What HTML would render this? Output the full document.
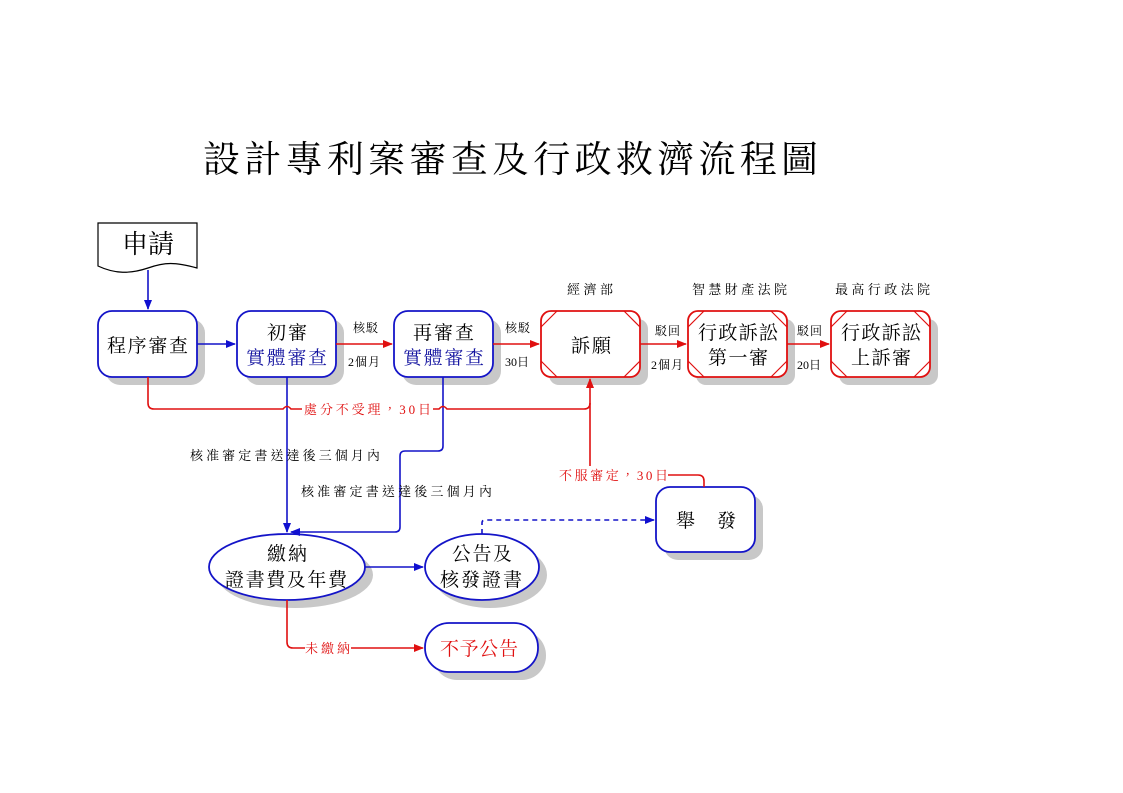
<!DOCTYPE html>
<html><head><meta charset="utf-8"><style>
html,body{margin:0;padding:0;background:#fff;}
svg{display:block;}
text{font-family:"Liberation Serif","Noto Serif CJK TC","Noto Serif CJK SC",serif;}
</style></head><body>
<svg width="1123" height="793" viewBox="0 0 1123 793" xmlns="http://www.w3.org/2000/svg">
<defs>
<marker id="ab" markerWidth="10" markerHeight="10" refX="9" refY="5" orient="auto" markerUnits="userSpaceOnUse"><path d="M0,1 L10,5 L0,9 z" fill="#1010d0"/></marker>
<marker id="ar" markerWidth="10" markerHeight="10" refX="9" refY="5" orient="auto" markerUnits="userSpaceOnUse"><path d="M0,1 L10,5 L0,9 z" fill="#e01010"/></marker>
</defs>
<text x="203" y="172" font-size="37" textLength="615" fill="#000">設計專利案審查及行政救濟流程圖</text>

<g fill="#c8c8c8">
<rect x="106" y="319" width="99" height="66" rx="14"/>
<rect x="245" y="319" width="99" height="66" rx="14"/>
<rect x="402" y="319" width="99" height="66" rx="14"/>
<rect x="549" y="319" width="99" height="66" rx="10"/>
<rect x="696" y="319" width="99" height="66" rx="10"/>
<rect x="839" y="319" width="99" height="66" rx="10"/>
<rect x="664" y="495" width="99" height="65" rx="14"/>
<ellipse cx="295" cy="575" rx="78" ry="33"/>
<ellipse cx="490" cy="575" rx="57" ry="33"/>
<rect x="433" y="631" width="113" height="49" rx="24"/>
</g>

<path d="M98,223 H197 V268 C175,262 165,262 148,268 C130,274 115,274 98,266 Z" fill="#fff" stroke="#000" stroke-width="1.2"/>
<text x="122" y="253" font-size="26">申</text>
<text x="148" y="253" font-size="26">請</text>

<g stroke="#1414c8" stroke-width="1.8" fill="#fff">
<rect x="98" y="311" width="99" height="66" rx="14"/>
<rect x="237" y="311" width="99" height="66" rx="14"/>
<rect x="394" y="311" width="99" height="66" rx="14"/>
<rect x="656" y="487" width="99" height="65" rx="14"/>
<ellipse cx="287" cy="567" rx="78" ry="33"/>
<ellipse cx="482" cy="567" rx="57" ry="33"/>
<rect x="425" y="623" width="113" height="49" rx="24"/>
</g>
<g stroke="#e01010" stroke-width="1.8" fill="#fff">
<rect x="541" y="311" width="99" height="66" rx="10"/>
<rect x="688" y="311" width="99" height="66" rx="10"/>
<rect x="831" y="311" width="99" height="66" rx="10"/>
</g>
<g stroke="#e01010" stroke-width="1.2" fill="none">
<path d="M541,327 L557,311 M624,311 L640,327 M541,361 L557,377 M624,377 L640,361"/>
<path d="M688,327 L704,311 M771,311 L787,327 M688,361 L704,377 M771,377 L787,361"/>
<path d="M831,327 L847,311 M914,311 L930,327 M831,361 L847,377 M914,377 L930,361"/>
</g>

<g font-size="19">
<text x="107" y="352" textLength="81" lengthAdjust="spacing">程序審查</text>
<text x="267" y="339" textLength="40" lengthAdjust="spacing">初審</text>
<text x="246" y="364" textLength="81" lengthAdjust="spacing" fill="#1414a0">實體審查</text>
<text x="413" y="339" textLength="61" lengthAdjust="spacing">再審查</text>
<text x="403" y="364" textLength="81" lengthAdjust="spacing" fill="#1414a0">實體審查</text>
<text x="571" y="352" textLength="40" lengthAdjust="spacing">訴願</text>
<text x="698" y="339" textLength="80" lengthAdjust="spacing">行政訴訟</text>
<text x="708" y="364" textLength="60" lengthAdjust="spacing">第一審</text>
<text x="841" y="339" textLength="80" lengthAdjust="spacing">行政訴訟</text>
<text x="851" y="364" textLength="60" lengthAdjust="spacing">上訴審</text>
<text x="676" y="527" textLength="60" lengthAdjust="spacing">舉　發</text>
<text x="267" y="560" textLength="40" lengthAdjust="spacing">繳納</text>
<text x="225" y="586" textLength="122" lengthAdjust="spacing">證書費及年費</text>
<text x="452" y="560" textLength="60" lengthAdjust="spacing">公告及</text>
<text x="440" y="586" textLength="82" lengthAdjust="spacing">核發證書</text>
<text x="440" y="655" textLength="78" lengthAdjust="spacing" fill="#e01010">不予公告</text>
</g>

<g font-size="13">
<text x="567" y="294" textLength="46" lengthAdjust="spacing">經濟部</text>
<text x="692" y="294" textLength="95" lengthAdjust="spacing">智慧財產法院</text>
<text x="835" y="294" textLength="95" lengthAdjust="spacing">最高行政法院</text>
</g>
<g font-size="12">
<text x="353" y="332" textLength="25" lengthAdjust="spacing">核駁</text>
<text x="348" y="366" textLength="32" lengthAdjust="spacing">2個月</text>
<text x="505" y="332" textLength="25" lengthAdjust="spacing">核駁</text>
<text x="505" y="366" textLength="24" lengthAdjust="spacing">30日</text>
<text x="655" y="335" textLength="25" lengthAdjust="spacing">駁回</text>
<text x="651" y="369" textLength="32" lengthAdjust="spacing">2個月</text>
<text x="797" y="335" textLength="25" lengthAdjust="spacing">駁回</text>
<text x="797" y="369" textLength="24" lengthAdjust="spacing">20日</text>
</g>

<g stroke="#1414c8" stroke-width="1.6" fill="none">
<path d="M148,270 V309" marker-end="url(#ab)"/>
<path d="M197,344 H235" marker-end="url(#ab)"/>
<path d="M287,377 V532" marker-end="url(#ab)"/>
<path d="M443,377 V446 Q443,451 438,451 H405 Q400,451 400,456 V527 Q400,532 395,532 H291" marker-end="url(#ab)"/>
<path d="M365,567 H423" marker-end="url(#ab)"/>
<path d="M482,534 V523 Q482,520 485,520 H654" stroke-dasharray="5,4" marker-end="url(#ab)"/>
</g>
<g stroke="#e01010" stroke-width="1.6" fill="none">
<path d="M336,344 H392" marker-end="url(#ar)"/>
<path d="M493,344 H539" marker-end="url(#ar)"/>
<path d="M640,344 H686" marker-end="url(#ar)"/>
<path d="M787,344 H829" marker-end="url(#ar)"/>
<path d="M148,377 V403 Q148,409 154,409 H283 Q287,404 291,409 H302"/>
<path d="M433,409 H439 Q443,404 447,409 H584 Q590,409 590,403"/>
<path d="M590,466 V379" marker-end="url(#ar)"/>
<path d="M668,475 H698 Q704,475 704,481 V487"/>
<path d="M287,600 V642 Q287,648 293,648 H305"/>
<path d="M351,648 H423" marker-end="url(#ar)"/>
</g>
<g font-size="13" fill="#e01010">
<text x="304" y="414" textLength="127" lengthAdjust="spacing">處分不受理，30日</text>
<text x="559" y="480" textLength="109" lengthAdjust="spacing">不服審定，30日</text>
<text x="305" y="653" textLength="45" lengthAdjust="spacing">未繳納</text>
</g>
<g font-size="13" fill="#000">
<text x="190" y="460" textLength="190" lengthAdjust="spacing">核准審定書送達後三個月內</text>
<text x="301" y="496" textLength="191" lengthAdjust="spacing">核准審定書送達後三個月內</text>
</g>
</svg>
</body></html>
